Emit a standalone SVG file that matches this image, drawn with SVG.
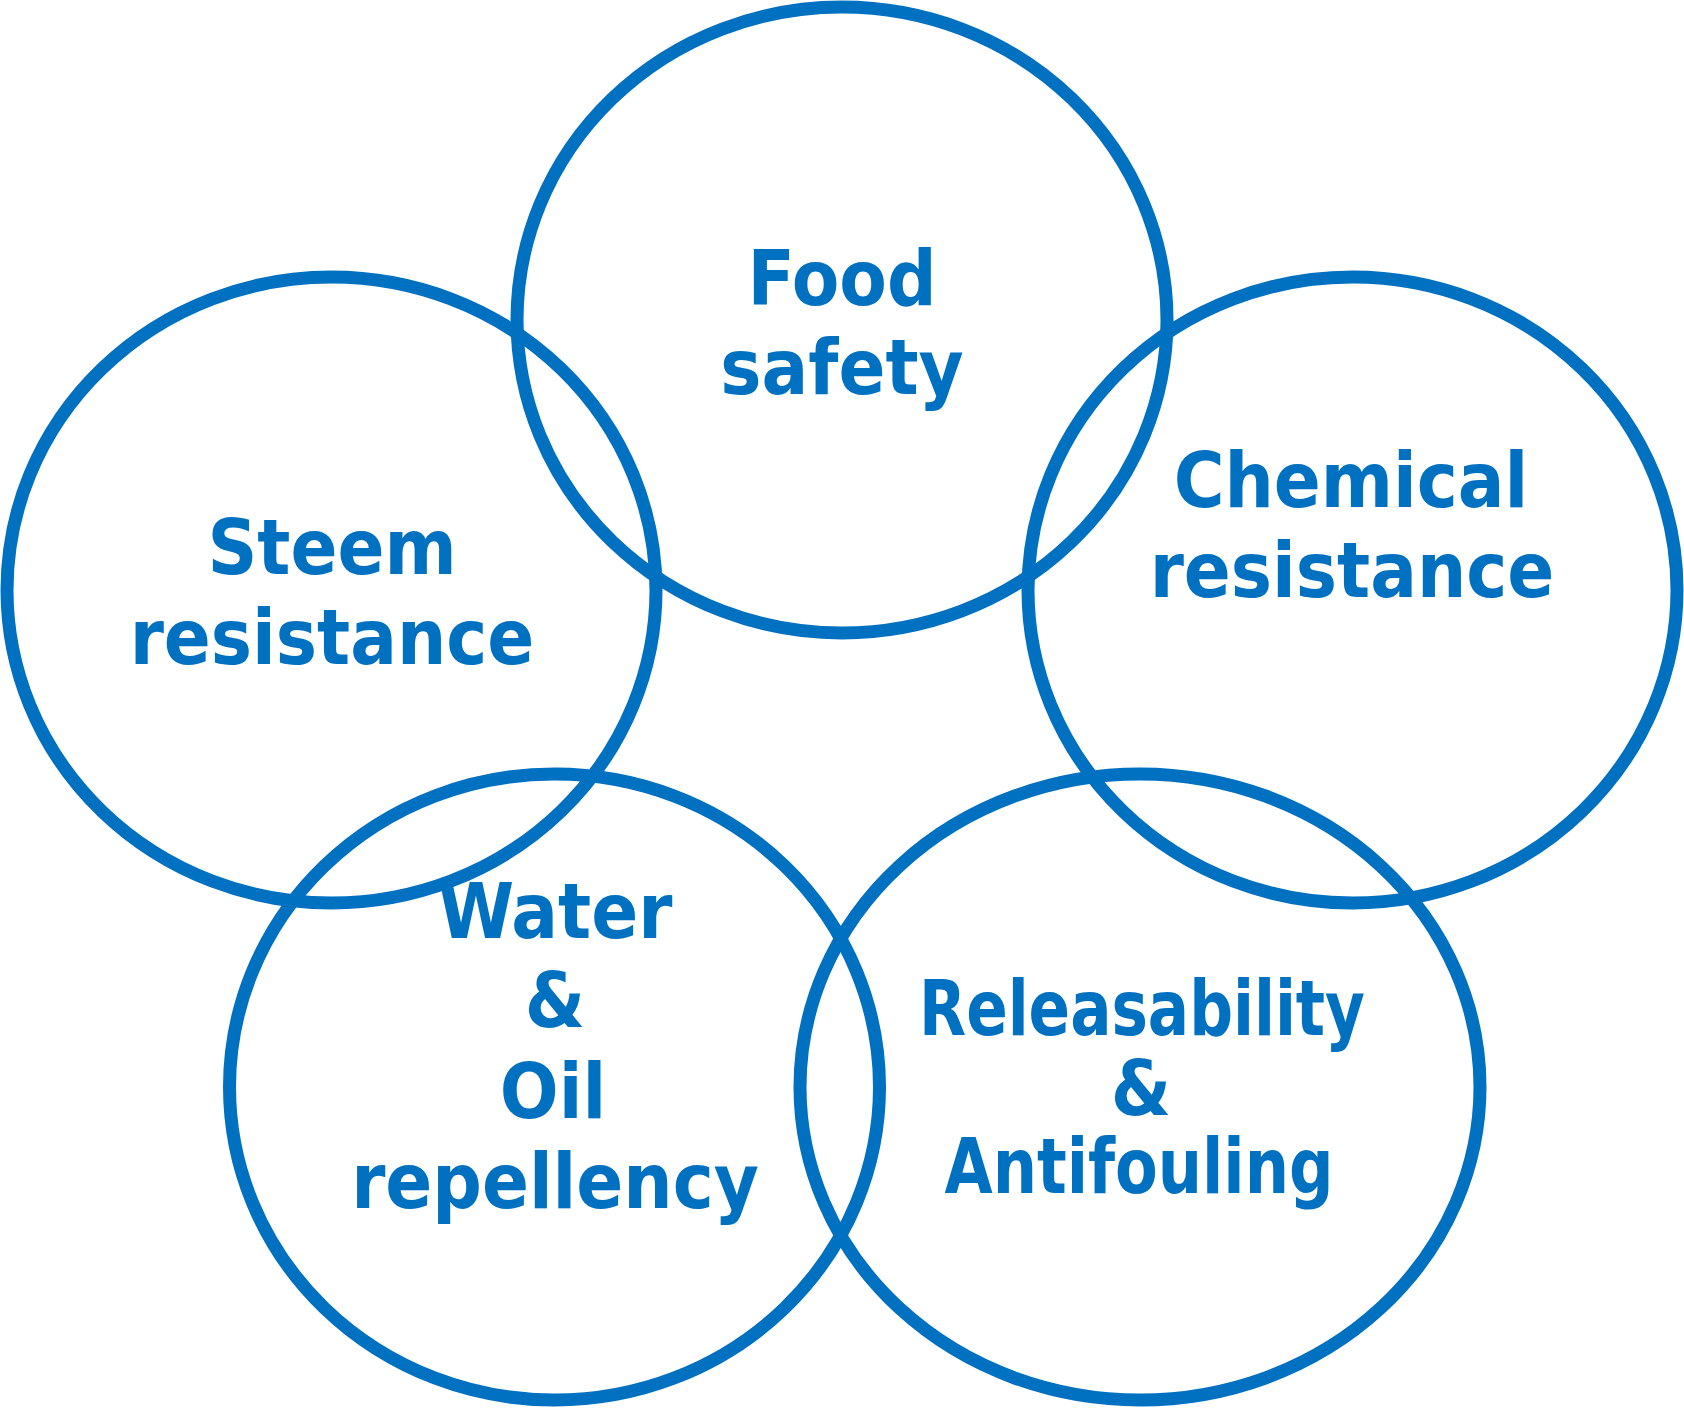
<svg xmlns="http://www.w3.org/2000/svg" width="1684" height="1409" viewBox="0 0 1684 1409">
<style>
.ring{fill:none;stroke:#0070C0;stroke-width:13}
.lbl{fill:#0070C0;font-family:"DejaVu Sans","Verdana",sans-serif;font-weight:bold;font-stretch:condensed;font-size:77px;text-anchor:middle}
</style>
<rect width="1684" height="1409" fill="#ffffff"/>
<g id="connectors"></g>
<g id="food-safety">
<ellipse class="ring" cx="842" cy="320" rx="325" ry="313"/>
<text class="lbl" x="842" y="305">Food</text>
<text class="lbl" x="842" y="394">safety</text>
</g>
<g id="steem-resistance">
<ellipse class="ring" cx="331.5" cy="590" rx="324.5" ry="313"/>
<text class="lbl" x="332" y="574">Steem</text>
<text class="lbl" x="332" y="664">resistance</text>
</g>
<g id="chemical-resistance">
<ellipse class="ring" cx="1352.5" cy="590" rx="324.5" ry="313"/>
<text class="lbl" x="1351" y="507">Chemical</text>
<text class="lbl" x="1352" y="597">resistance</text>
</g>
<g id="water-oil-repellency">
<ellipse class="ring" cx="554.5" cy="1087" rx="325" ry="313"/>
<text class="lbl" x="555" y="938">Water</text>
<text class="lbl" x="555" y="1027">&amp;</text>
<text class="lbl" x="553" y="1118">Oil</text>
<text class="lbl" x="555" y="1208">repellency</text>
</g>
<g id="releasability-antifouling">
<ellipse class="ring" cx="1140" cy="1087" rx="340" ry="313"/>
<text class="lbl" x="1142" y="1035" textLength="446" lengthAdjust="spacingAndGlyphs">Releasability</text>
<text class="lbl" x="1141" y="1115">&amp;</text>
<text class="lbl" x="1139" y="1193" textLength="389" lengthAdjust="spacingAndGlyphs">Antifouling</text>
</g>
</svg>
